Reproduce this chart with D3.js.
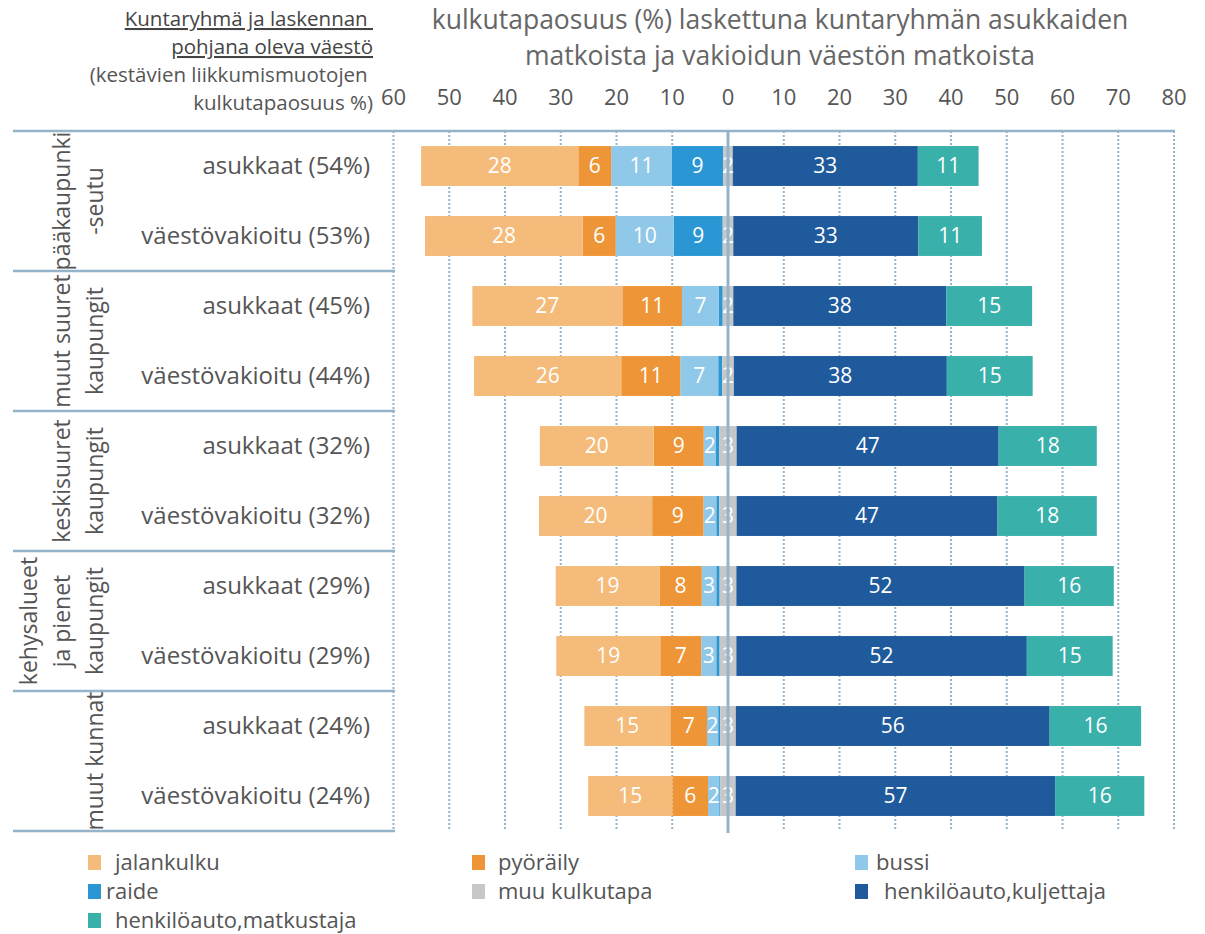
<!DOCTYPE html>
<html>
<head>
<meta charset="utf-8">
<script src="https://cdn.jsdelivr.net/npm/d3@7"></script>
<style>
  body { margin: 0; background: #fff; }
  svg text { font-family: "Open Sans", "Noto Sans", sans-serif; }
</style>
</head>
<body>
<svg width="1205" height="934"></svg>
<script>
// kuntaryhmät (rivit pareittain)
const groupLines = [
    ["pääkaupunki", "-seutu"],
    ["muut suuret", "kaupungit"],
    ["keskisuuret", "kaupungit"],
    ["kehysalueet", "ja pienet", "kaupungit"],
    ["muut kunnat"]
];
const rowLabels = [
    "asukkaat (54%)", "väestövakioitu (53%)",
    "asukkaat (45%)", "väestövakioitu (44%)",
    "asukkaat (32%)", "väestövakioitu (32%)",
    "asukkaat (29%)", "väestövakioitu (29%)",
    "asukkaat (24%)", "väestövakioitu (24%)"
];
const modes = ["jalankulku", "pyöräily", "bussi", "raide", "muu kulkutapa",
    "henkilöauto,kuljettaja", "henkilöauto,matkustaja"];

// kulkutapaosuudet %
const jalankulku = [28.2, 28.3, 26.9, 26.4, 20.4, 20.3, 18.6, 18.65, 15.4, 15.1];
const pyoraily   = [5.9, 5.9, 10.7, 10.6, 9.0, 9.2, 7.6, 7.35, 6.6, 6.4];
const bussi      = [10.9, 10.4, 6.6, 6.8, 2.2, 2.3, 2.6, 2.7, 2.0, 2.0];
const raide      = [9.2, 8.8, 0.7, 0.7, 0.6, 0.55, 0.6, 0.6, 0.36, 0.2];
const muu        = [1.7, 1.9, 1.9, 2.1, 3.1, 3.1, 3.0, 3.0, 2.8, 2.75];
const kuljettaja = [33.2, 33.2, 38.2, 38.2, 47.0, 46.8, 51.7, 52.1, 56.3, 57.3];
const matkustaja = [10.9, 11.4, 15.4, 15.4, 17.6, 17.8, 16.0, 15.4, 16.4, 16.0];

const xTicks = [-60, -50, -40, -30, -20, -10, 0, 10, 20, 30, 40, 50, 60, 70, 80];

const colors = {
    "jalankulku": "#f4bb7a",
    "pyöräily": "#ee9537",
    "bussi": "#8fc8e8",
    "raide": "#2a97d4",
    "muu kulkutapa": "#c6c7c8",
    "henkilöauto,kuljettaja": "#1f5a9c",
    "henkilöauto,matkustaja": "#39b0aa"
};
// legendan tekstin etäisyys neliöstä
const legendGap = {
    "jalankulku": 14, "pyöräily": 13, "bussi": 8, "raide": 5,
    "muu kulkutapa": 13, "henkilöauto,kuljettaja": 16, "henkilöauto,matkustaja": 14
};

const lineColor = "#93b4c9";
const textColor = "#555";

const svg = d3.select("svg");

const yTop = 131, yBottom = 831;
const x = d3.scaleLinear().domain([-60, 80]).range([393.5, 1174]);
const y = d3.scaleBand()
    .domain(d3.range(rowLabels.length))
    .range([yTop, yBottom])
    .paddingInner(0.43)
    .paddingOuter(0.215);

// rivit -> segmentit
const series = [jalankulku, pyoraily, bussi, raide, muu, kuljettaja, matkustaja];
const rows = rowLabels.map((label, i) => {
    const v = series.map(s => s[i]);
    const segs = [];
    // vasen puoli: raide lähimpänä nollaa
    let pos = -v[4] / 2;
    for (let k = 3; k >= 0; k--) {
        segs.push({ mode: modes[k], value: v[k], x0: pos - v[k], x1: pos });
        pos -= v[k];
    }
    segs.push({ mode: modes[4], value: v[4], x0: -v[4] / 2, x1: v[4] / 2 });
    pos = v[4] / 2;
    for (let k = 5; k < 7; k++) {
        segs.push({ mode: modes[k], value: v[k], x0: pos, x1: pos + v[k] });
        pos += v[k];
    }
    return { index: i, label: label, segs: segs };
});

// otsikko
svg.append("text")
    .attr("x", 776).attr("y", 29)
    .attr("text-anchor", "middle")
    .attr("font-size", 26.5)
    .attr("fill", "#666")
    .selectAll("tspan")
    .data(["kulkutapaosuus (%) laskettuna kuntaryhmän asukkaiden",
        "matkoista ja vakioidun väestön matkoista"])
    .join("tspan")
    .attr("x", 780)
    .attr("dy", (d, i) => i === 0 ? 0 : 36)
    .text(d => d);

// vasen yläkulma
const header = [
    { t: "Kuntaryhmä ja laskennan ", u: true },
    { t: "pohjana oleva väestö", u: true },
    { t: "(kestävien liikkumismuotojen ", u: false },
    { t: "kulkutapaosuus %)", u: false }
];
svg.append("g").selectAll("text")
    .data(header)
    .join("text")
    .attr("x", 373)
    .attr("y", (d, i) => 26 + i * 28)
    .attr("text-anchor", "end")
    .attr("font-size", 20.5)
    .attr("fill", d => d.u ? "#444" : textColor)
    .style("white-space", "pre")
    .style("text-decoration", d => d.u ? "underline" : "none")
    .text(d => d.t);

// akselin numerot
svg.append("g").selectAll("text")
    .data(xTicks)
    .join("text")
    .attr("x", d => x(d))
    .attr("y", 105)
    .attr("text-anchor", "middle")
    .attr("font-size", 22)
    .attr("fill", textColor)
    .text(d => Math.abs(d));

// pisteviivat
svg.append("g").selectAll("line")
    .data(xTicks.filter(d => d !== 0))
    .join("line")
    .attr("x1", d => x(d)).attr("x2", d => x(d))
    .attr("y1", yTop).attr("y2", yBottom)
    .attr("stroke", lineColor)
    .attr("stroke-width", 2)
    .attr("stroke-dasharray", "2,2");

// ryhmien erotinviivat
const groupY = d3.range(groupLines.length + 1).map(g => yTop + g * 2 * y.step());
svg.append("g").selectAll("line")
    .data(groupY)
    .join("line")
    .attr("x1", 13)
    .attr("x2", (d, i) => i === 0 ? 1175 : 395)
    .attr("y1", d => d).attr("y2", d => d)
    .attr("stroke", lineColor)
    .attr("stroke-width", 2.5);

// ryhmien nimet pystyyn
groupLines.forEach((lines, g) => {
    const cy = yTop + (g * 2 + 1) * y.step();
    svg.append("g").selectAll("text")
        .data(lines)
        .join("text")
        .attr("transform", (d, i) => `translate(${103 - (lines.length - 1 - i) * 33},${cy}) rotate(-90)`)
        .attr("text-anchor", "middle")
        .attr("font-size", 23)
        .attr("fill", textColor)
        .text(d => d);
});

// rivien nimet
svg.append("g").selectAll("text")
    .data(rows)
    .join("text")
    .attr("x", 370)
    .attr("y", d => y(d.index) + y.bandwidth() / 2 + 8)
    .attr("text-anchor", "end")
    .attr("font-size", 24)
    .attr("fill", textColor)
    .text(d => d.label);

// palkit
const barG = svg.append("g").selectAll("g")
    .data(rows)
    .join("g")
    .attr("transform", d => `translate(0,${y(d.index)})`);

barG.selectAll("rect")
    .data(d => d.segs)
    .join("rect")
    .attr("x", d => x(d.x0))
    .attr("width", d => x(d.x1) - x(d.x0))
    .attr("height", y.bandwidth())
    .attr("fill", d => colors[d.mode]);

// nollaviiva
svg.append("line")
    .attr("x1", x(0)).attr("x2", x(0))
    .attr("y1", yTop).attr("y2", yBottom + 2)
    .attr("stroke", lineColor)
    .attr("stroke-width", 3);

// arvot
barG.selectAll("text")
    .data(d => d.segs.filter(s => s.value >= 1))
    .join("text")
    .attr("x", d => (x(d.x0) + x(d.x1)) / 2)
    .attr("y", y.bandwidth() / 2 + 7.5)
    .attr("text-anchor", "middle")
    .attr("font-size", 21)
    .attr("fill", "#fff")
    .text(d => d3.format(".0f")(d.value));

// selite
const legendX = [88, 472, 855];
const legend = svg.append("g").selectAll("g")
    .data(modes)
    .join("g")
    .attr("transform", (d, i) => `translate(${legendX[i % 3]},${862 + Math.floor(i / 3) * 29})`);
legend.append("rect")
    .attr("x", 0).attr("y", -7)
    .attr("width", 13).attr("height", 15)
    .attr("fill", d => colors[d]);
legend.append("text")
    .attr("x", d => 13 + legendGap[d])
    .attr("y", 7.5)
    .attr("font-size", 22)
    .attr("fill", textColor)
    .text(d => d);
</script>
</body>
</html>
